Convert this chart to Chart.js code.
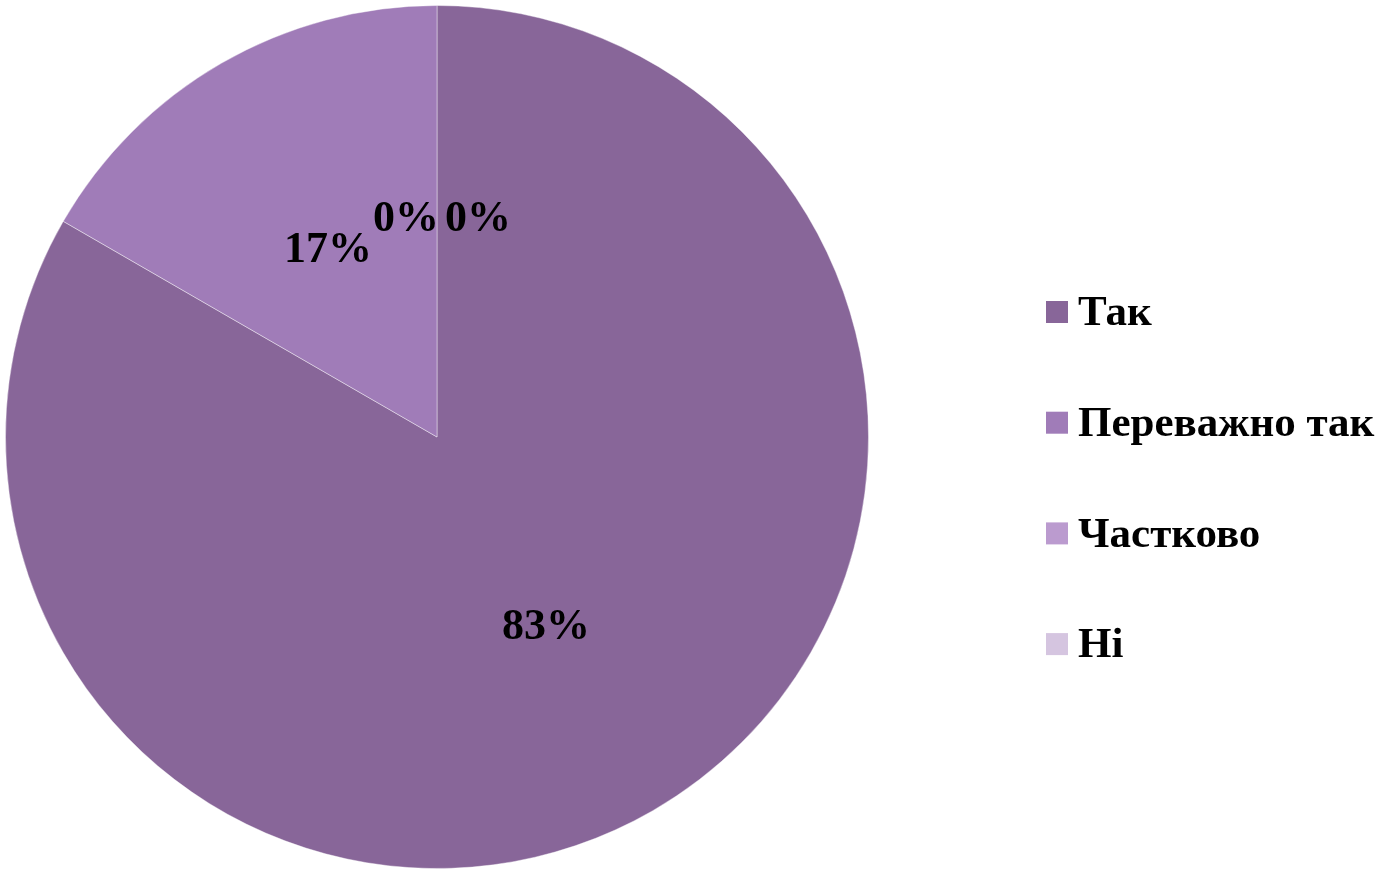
<!DOCTYPE html>
<html>
<head>
<meta charset="utf-8">
<script src="https://cdn.jsdelivr.net/npm/chart.js@4.4.1/dist/chart.umd.min.js"></script>
<style>
  html, body { margin: 0; padding: 0; background: #fff; }
  #wrap { width: 1384px; height: 871px; position: relative; }
</style>
</head>
<body>
<div id="wrap"><canvas id="pieChart"></canvas></div>
<script>
// Data (5 of 6 answers "Так", 1 of 6 "Переважно так")
const categories = ['Так', 'Переважно так', 'Частково', 'Ні'];
const shares = [83.33, 16.67, 0, 0];
const sliceColors = ['#886699', '#A07CB8', '#BB9BCF', '#D5C5E0'];

const FONT = "'Liberation Serif', 'Times New Roman', serif";

// Percent labels inside slices, zero slices pushed apart like in the original
const sliceLabels = {
    id: 'sliceLabels',
    afterDatasetsDraw(chart) {
        const ctx = chart.ctx;
        const meta = chart.getDatasetMeta(0);
        ctx.save();
        ctx.font = 'bold 44px ' + FONT;
        ctx.fillStyle = '#000';
        ctx.textBaseline = 'middle';
        let zeroCount = 0;
        meta.data.forEach((arc, i) => {
            const mid = (arc.startAngle + arc.endAngle) / 2;
            const d = arc.outerRadius * 0.505;
            const x = arc.x + Math.cos(mid) * d;
            const y = arc.y + Math.sin(mid) * d;
            const txt = Math.round(shares[i]) + '%';
            if (shares[i] === 0) {
                ctx.textAlign = zeroCount === 0 ? 'right' : 'left';
                ctx.fillText(txt, zeroCount === 0 ? x + 2 : x + 8, y + 1);
                zeroCount++;
            } else {
                ctx.textAlign = 'center';
                ctx.fillText(txt, x, y + 2);
            }
        });
        ctx.restore();
    }
};

// Legend on the right, spaced as in the original
const sideLegend = {
    id: 'sideLegend',
    afterDraw(chart) {
        const ctx = chart.ctx;
        const boxX = 1046, box = 22, textX = 1078;
        const firstY = 312, step = 110.7;
        ctx.save();
        ctx.font = 'bold 43px ' + FONT;
        ctx.textBaseline = 'middle';
        ctx.textAlign = 'left';
        categories.forEach((name, i) => {
            const cy = firstY + i * step;
            ctx.fillStyle = sliceColors[i];
            ctx.fillRect(boxX, cy - box / 2, box, box);
            ctx.fillStyle = '#000';
            ctx.fillText(name, textX, cy + 2);
        });
        ctx.restore();
    }
};

new Chart(document.getElementById('pieChart'), {
    type: 'pie',
    data: {
        labels: categories,
        datasets: [{
            data: shares,
            backgroundColor: sliceColors,
            borderColor: 'rgba(255,255,255,0.4)',
            borderWidth: 1
        }]
    },
    options: {
        responsive: true,
        maintainAspectRatio: false,
        animation: false,
        layout: { padding: { left: 5, top: 5, bottom: 2, right: 515 } },
        plugins: {
            legend: { display: false },
            tooltip: { enabled: false }
        }
    },
    plugins: [sliceLabels, sideLegend]
});
</script>
</body>
</html>
